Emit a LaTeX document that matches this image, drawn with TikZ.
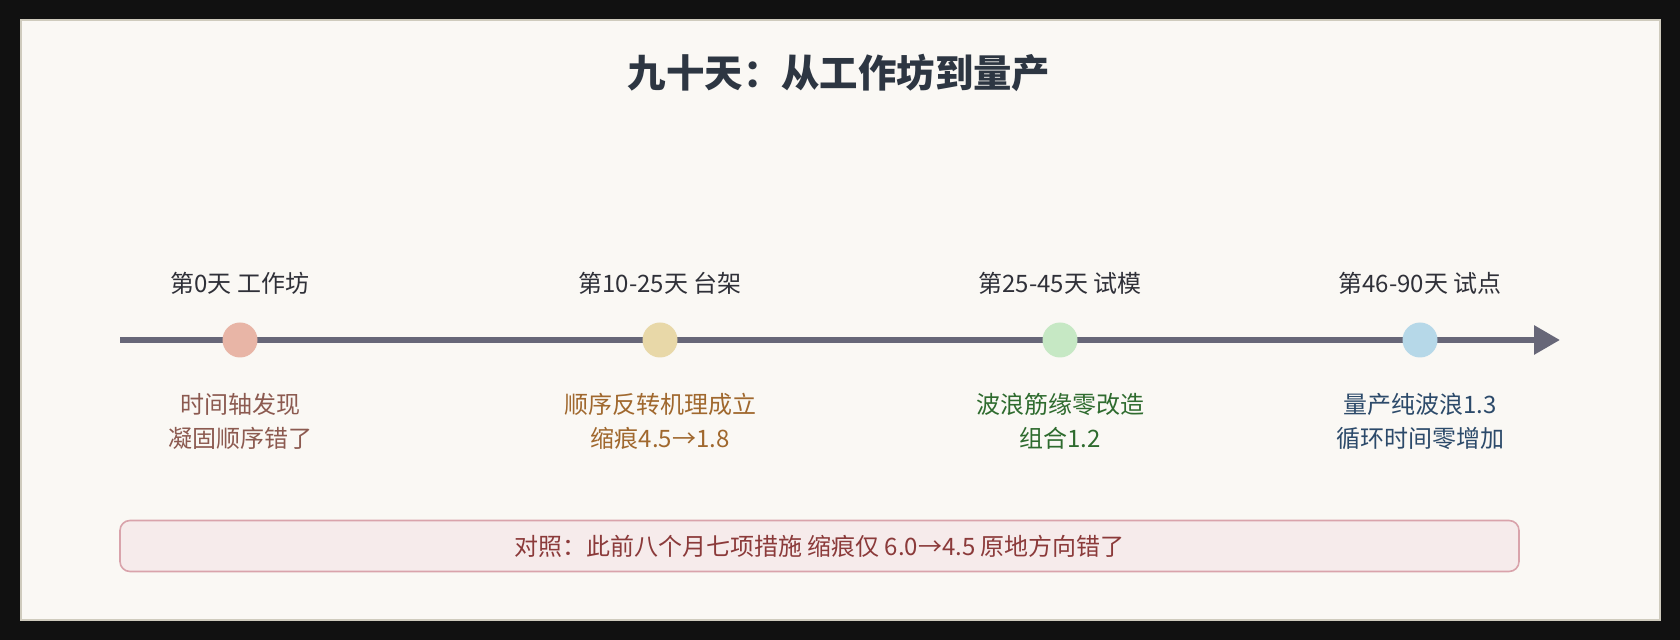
\documentclass[tikz,border=0pt]{standalone}
\usepackage{fontspec}
\setmainfont{Noto Sans CJK SC}
\usepackage{tikz}
\usetikzlibrary{arrows.meta, positioning}
\definecolor{framedark}{HTML}{111111}
\definecolor{panelbg}{HTML}{FAF8F4}
\definecolor{panelline}{HTML}{CFCBBD}
\definecolor{titleink}{HTML}{2D3642}
\definecolor{axisgray}{HTML}{676778}
\definecolor{stageink}{HTML}{2F3038}
\definecolor{dotrose}{HTML}{E8B5A6}
\definecolor{dotsand}{HTML}{E8D8A8}
\definecolor{dotmint}{HTML}{C6E8C4}
\definecolor{dotsky}{HTML}{B6D8E8}
\definecolor{noterose}{HTML}{8C5A50}
\definecolor{notesand}{HTML}{A0682E}
\definecolor{notemint}{HTML}{2E6B2E}
\definecolor{notesky}{HTML}{2C4A6A}
\definecolor{warnfill}{HTML}{F6EBEB}
\definecolor{warnline}{HTML}{D9A3AB}
\definecolor{warnink}{HTML}{8B3A3A}

\begin{document}
\begin{tikzpicture}[x=0.5pt, y=-0.5pt,
  dot/.style={circle, inner sep=0pt, minimum size=17.5pt},
  stagelabel/.style={text=stageink, font=\fontsize{12}{17}\selectfont, inner sep=0pt},
  stagenote/.style={align=center, font=\fontsize{12}{17}\selectfont, inner sep=0pt}
]
  % Frame and panel
  \fill[framedark] (0,0) rectangle (1680,640);
  \useasboundingbox (0,0) rectangle (1680,640);
  \draw[panelline, fill=panelbg, line width=1pt] (20.5,20.5) rectangle (1659.5,619.5);

  % Title
  \node[text=titleink, font=\fontsize{19.2}{23}\selectfont\bfseries] (title) at (839,73) {九十天：从工作坊到量产};

  % Time axis
  \coordinate (axstart) at (120,340);
  \coordinate (axend) at (1560,340);
  \draw[axisgray, line width=3pt, -{Triangle[length=13pt, width=14pt]}] (axstart) -- (axend);

  % Milestones
  \node[dot, fill=dotrose] (d0) at (240,340) {};
  \node[dot, fill=dotsand] (d1) at (660,340) {};
  \node[dot, fill=dotmint] (d2) at (1060,340) {};
  \node[dot, fill=dotsky] (d3) at (1420,340) {};

  % Stage names
  \node[stagelabel] (t0) at (240,283) {第0天 工作坊};
  \node[stagelabel] (t1) at (660,283) {第10-25天 台架};
  \node[stagelabel] (t2) at (1060,283) {第25-45天 试模};
  \node[stagelabel] (t3) at (1420,283) {第46-90天 试点};

  % Results
  \node[stagenote, text=noterose] (b0) at (240,421) {时间轴发现\\凝固顺序错了};
  \node[stagenote, text=notesand] (b1) at (660,421) {顺序反转机理成立\\缩痕4.5→1.8};
  \node[stagenote, text=notemint] (b2) at (1060,421) {波浪筋缘零改造\\组合1.2};
  \node[stagenote, text=notesky] (b3) at (1420,421) {量产纯波浪1.3\\循环时间零增加};

  % Comparison box
  \node[draw=warnline, fill=warnfill, line width=0.8pt, rounded corners=5pt, minimum width=699.5pt, minimum height=25.5pt, text=warnink, font=\fontsize{12}{17}\selectfont] (compare) at (819.5,546) {对照：此前八个月七项措施 缩痕仅 6.0→4.5 原地方向错了};
\end{tikzpicture}
\end{document}
